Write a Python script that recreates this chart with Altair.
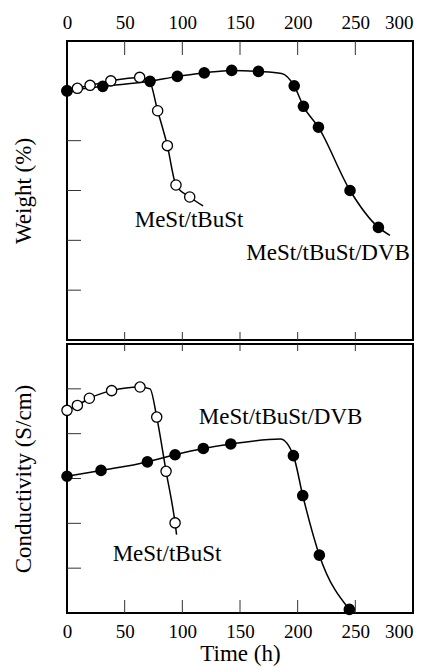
import altair as alt
import pandas as pd

# ---- Top panel: Weight (%) vs Time (h) ----
w_open_x = [0, 9, 20, 38, 63, 78.6, 87, 94.5, 106.4]
w_open_y = [5.0, 5.05, 5.11, 5.2, 5.27, 4.6, 3.9, 3.11, 2.87]
w_open_knot_x = [71, 118]
w_open_knot_y = [5.22, 2.69]

w_dvb_x = [0, 31, 72, 95.7, 119, 142.8, 166, 197, 205, 218, 245.4, 270]
w_dvb_y = [5.0, 5.09, 5.19, 5.29, 5.36, 5.41, 5.39, 5.1, 4.69, 4.27, 3.0, 2.26]
w_dvb_knot_x = [186, 280]
w_dvb_knot_y = [5.35, 2.1]

# ---- Bottom panel: Conductivity (S/cm) vs Time (h) ----
c_open_x = [0, 9, 19.4, 38.7, 63.3, 77.8, 85.9, 93.7]
c_open_y = [4.52, 4.63, 4.79, 4.96, 5.04, 4.37, 3.16, 2.01]
c_open_knot_x = [72, 95]
c_open_knot_y = [5.0, 1.75]

c_dvb_x = [0, 29.5, 69.7, 93.7, 118.2, 142, 196.3, 204.4, 218.8, 244.8]
c_dvb_y = [3.05, 3.18, 3.37, 3.53, 3.67, 3.77, 3.51, 2.62, 1.29, 0.08]
c_dvb_knot_x = [185]
c_dvb_knot_y = [3.88]

x_ticks = [50, 100, 150, 200, 250]
x_labels = [0, 50, 100, 150, 200, 250, 300]
y_ticks = [1, 2, 3, 4, 5]

w_label_text = ["MeSt/tBuSt", "MeSt/tBuSt/DVB"]
w_label_x = [105.8, 226.4]
w_label_y = [2.26, 1.61]
c_label_text = ["MeSt/tBuSt/DVB", "MeSt/tBuSt"]
c_label_x = [185.2, 86.7]
c_label_y = [4.22, 1.16]

FONT = "Liberation Serif"
W = 346
H1 = 299
H2 = 269


def frame(xs, ys, s):
    return pd.DataFrame({"x": xs, "y": ys, "s": s})


def line_df(mx, my, kx, ky, s):
    d = frame(list(mx) + list(kx), list(my) + list(ky), s)
    return d.sort_values("x").reset_index(drop=True)


xscale = alt.Scale(domain=[0, 300], nice=False, zero=False)
yscale = alt.Scale(domain=[0, 6], nice=False, zero=False)
label_align = {"expr": "datum.value == 300 ? 'right' : 'center'"}


def panel(open_x, open_y, okx, oky, dvb_x, dvb_y, dkx, dky, lab_t, lab_x, lab_y,
          height, ytitle, xorient, xtitle, tick_specs):
    lines = pd.concat([
        line_df(open_x, open_y, okx, oky, "open"),
        line_df(dvb_x, dvb_y, dkx, dky, "dvb"),
    ])
    if xtitle:
        xaxis = alt.Axis(orient=xorient, values=x_labels, ticks=False, domain=False,
                         grid=False, labelPadding=9, labelFlush=False,
                         labelAlign=label_align,
                         title=xtitle, titlePadding=1)
    else:
        xaxis = alt.Axis(orient=xorient, values=x_labels, ticks=False, domain=False,
                         grid=False, labelPadding=9, labelFlush=False,
                         labelAlign=label_align, title=None)
    yaxis = alt.Axis(labels=False, ticks=False, domain=False, grid=False,
                     title=ytitle, titlePadding=32)
    X = alt.X("x:Q", scale=xscale, axis=xaxis)
    Y = alt.Y("y:Q", scale=yscale, axis=yaxis)

    line_layer = alt.Chart(lines).mark_line(color="black", strokeWidth=1.5,
                                            interpolate="monotone").encode(
        x=X, y=Y, detail="s:N")
    open_pts = alt.Chart(frame(open_x, open_y, "open")).mark_point(
        shape="circle", fill="white", stroke="black", strokeWidth=1.3,
        size=105, opacity=1, filled=False, fillOpacity=1).encode(x=X, y=Y)
    dvb_pts = alt.Chart(frame(dvb_x, dvb_y, "dvb")).mark_point(
        shape="circle", filled=True, color="black", size=135, opacity=1).encode(x=X, y=Y)

    texts = alt.Chart(pd.DataFrame({"x": lab_x, "y": lab_y, "t": lab_t})).mark_text(
        font=FONT, fontSize=23, align="center", baseline="alphabetic",
        color="black").encode(x=X, y=Y, text="t:N")

    tdf = pd.DataFrame({"x": x_ticks})
    tick_layers = []
    for y0, y1 in tick_specs:
        tick_layers.append(alt.Chart(tdf).mark_rule(color="#333", strokeWidth=1).encode(
            x=X, y=alt.value(y0), y2=alt.value(y1)))
    ydf = pd.DataFrame({"y": y_ticks})
    ytick_layer = alt.Chart(ydf).mark_rule(color="#333", strokeWidth=1).encode(
        y=Y, x=alt.value(0), x2=alt.value(14))

    return alt.layer(*tick_layers, ytick_layer, line_layer, open_pts, dvb_pts, texts).properties(
        width=W, height=height)


top = panel(w_open_x, w_open_y, w_open_knot_x, w_open_knot_y,
            w_dvb_x, w_dvb_y, w_dvb_knot_x, w_dvb_knot_y,
            w_label_text, w_label_x, w_label_y,
            H1, "Weight (%)", "top", None, [(0, 14), (H1 - 8, H1)])
bottom = panel(c_open_x, c_open_y, c_open_knot_x, c_open_knot_y,
               c_dvb_x, c_dvb_y, c_dvb_knot_x, c_dvb_knot_y,
               c_label_text, c_label_x, c_label_y,
               H2, "Conductivity (S/cm)", "bottom", "Time (h)", [(0, 7), (H2 - 13, H2)])

chart = alt.vconcat(top, bottom, spacing=0).properties(
    padding={"left": 3, "top": 4, "right": 2, "bottom": 0},
    background="white",
).configure_view(
    stroke="black", strokeWidth=2
).configure_axis(
    labelFont=FONT, labelFontSize=19, labelColor="black",
    titleFont=FONT, titleFontSize=23, titleFontWeight="normal", titleColor="black",
)

chart.save("out.html", embed_options={"renderer": "svg", "actions": False})
